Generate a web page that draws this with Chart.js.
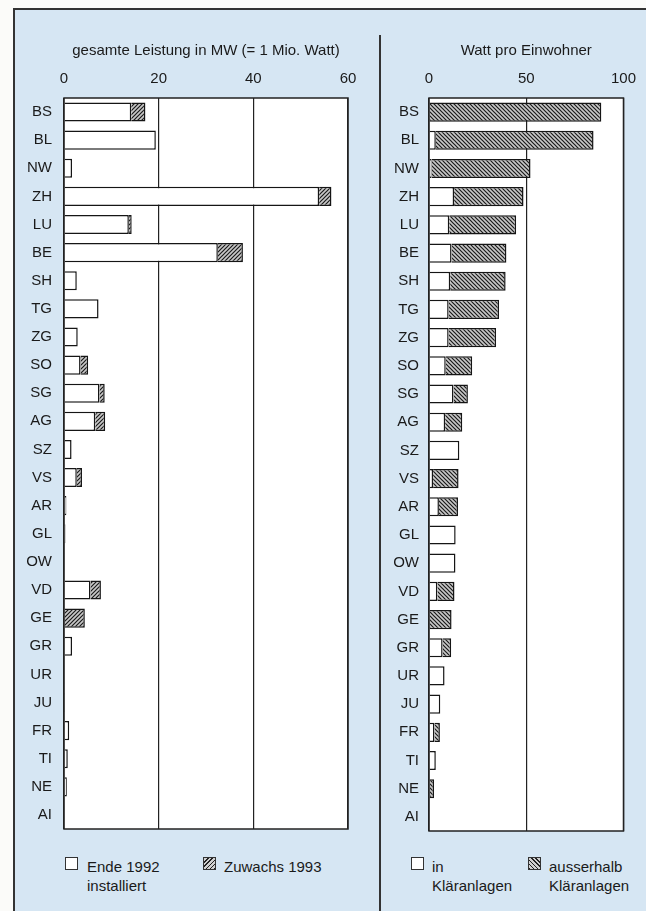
<!DOCTYPE html>
<html>
<head>
<meta charset="utf-8">
<script src="https://cdn.jsdelivr.net/npm/chart.js@4/dist/chart.umd.min.js"></script>
<style>
  html, body { margin: 0; padding: 0; }
  body { width: 646px; height: 911px; overflow: hidden; background: #fbfbf9; position: relative;
         font-family: "Liberation Sans", Arial, sans-serif; color: #1a1a1a; }
  .frame { position: absolute; left: 13px; top: 8px; width: 700px; height: 1000px;
           background: #d6e6f3; border-left: 2px solid #333; border-top: 2px solid #333; }
  .divider { position: absolute; left: 379px; top: 35px; width: 2px; height: 900px; background: #333; }
  .box { position: absolute; }
  .legend { position: absolute; font-size: 15px; line-height: 19px; }
  .sw { position: absolute; width: 13px; height: 13px; border: 1px solid #333; box-sizing: border-box; background: #fff; }
  .sw.l { background: repeating-linear-gradient(-45deg, #222 0 1px, #d0d0d0 1px 3px); }
  .sw.r { background: repeating-linear-gradient(45deg, #222 0 1px, #d0d0d0 1px 3px); }
</style>
</head>
<body>
<div class="frame"></div>
<div class="divider"></div>
<div class="box" style="left:14px;top:20px;width:364px;height:830px"><canvas id="left"></canvas></div>
<div class="box" style="left:382px;top:20px;width:264px;height:830px"><canvas id="right"></canvas></div>

<div class="sw" style="left:65px;top:857px"></div>
<div class="legend" style="left:87px;top:857px">Ende 1992<br>installiert</div>
<div class="sw l" style="left:203px;top:857px"></div>
<div class="legend" style="left:224px;top:857px">Zuwachs 1993</div>

<div class="sw" style="left:411px;top:857px"></div>
<div class="legend" style="left:432px;top:857px">in<br>Kläranlagen</div>
<div class="sw r" style="left:528px;top:857px"></div>
<div class="legend" style="left:549px;top:857px">ausserhalb<br>Kläranlagen</div>

<script>
const cantons = ['BS','BL','NW','ZH','LU','BE','SH','TG','ZG','SO','SG','AG','SZ','VS','AR','GL','OW','VD','GE','GR','UR','JU','FR','TI','NE','AI'];

// gesamte Leistung in MW
const mwEnde1992 = [14.2,19.4,1.7,53.9,13.7,32.5,2.7,7.3,2.9,3.5,7.5,6.6,1.6,2.7,0.5,0.3,0.15,5.6,0,1.7,0.1,0.2,1.1,0.8,0.6,0];
const mwZuwachs1993 = [3.0,0,0,2.6,0.6,5.3,0,0,0,1.6,1.1,2.1,0,1.1,0,0,0,2.2,4.4,0,0,0,0,0,0,0];
const mwTicks = [0, 20, 40, 60];

// Watt pro Einwohner
const wattIn = [0.3,3.5,1.3,12.9,10.4,11.6,10.9,10.1,10.1,8.6,12.6,8.3,15.6,2.1,5.1,13.7,13.6,4.3,0.3,7.0,8.0,5.8,2.8,3.5,0.5,0];
const wattAusserhalb = [88.3,81.1,50.9,35.7,34.4,28.2,28.5,25.9,24.4,13.6,7.4,8.8,0,13.1,9.8,0,0,8.8,11.3,4.4,0,0,2.8,0,2.1,0];
const wattTicks = [0, 50, 100];

function hatch(forward) {
  const c = document.createElement('canvas');
  c.width = 4; c.height = 4;
  const g = c.getContext('2d');
  g.fillStyle = '#c8c8c8';
  g.fillRect(0, 0, 4, 4);
  g.strokeStyle = '#1a1a1a';
  g.lineWidth = 1.2;
  g.beginPath();
  if (forward) {
    g.moveTo(-1, 5); g.lineTo(5, -1);
    g.moveTo(-1, 1); g.lineTo(1, -1);
    g.moveTo(3, 5); g.lineTo(5, 3);
  } else {
    g.moveTo(-1, -1); g.lineTo(5, 5);
    g.moveTo(3, -1); g.lineTo(5, 1);
    g.moveTo(-1, 3); g.lineTo(1, 5);
  }
  g.stroke();
  return g.createPattern(c, 'repeat');
}

const plotFrame = {
  id: 'plotFrame',
  beforeDraw(chart) {
    const a = chart.chartArea, ctx = chart.ctx;
    ctx.save();
    ctx.fillStyle = '#ffffff';
    ctx.fillRect(a.left, a.top, a.right - a.left, a.bottom - a.top);
    ctx.restore();
  },
  afterDraw(chart) {
    const a = chart.chartArea, ctx = chart.ctx;
    ctx.save();
    ctx.strokeStyle = '#222';
    ctx.lineWidth = 1.5;
    ctx.strokeRect(a.left, a.top, a.right - a.left, a.bottom - a.top);
    ctx.restore();
  }
};

const font = { family: '"Liberation Sans", Arial, sans-serif', size: 15 };

function makeChart(id, a, b, patternFwd, max, ticks, title, yWidth, yPad, pad) {
  return new Chart(document.getElementById(id), {
    type: 'bar',
    data: {
      labels: cantons,
      datasets: [
        { data: a, backgroundColor: '#ffffff', borderColor: '#151515', borderWidth: 1.5,
          barPercentage: 0.68, categoryPercentage: 1 },
        { data: b, backgroundColor: hatch(patternFwd), borderColor: '#151515', borderWidth: 1.5,
          barPercentage: 0.68, categoryPercentage: 1 }
      ]
    },
    options: {
      indexAxis: 'y',
      responsive: true,
      maintainAspectRatio: false,
      animation: false,
      layout: { padding: pad },
      plugins: { legend: { display: false }, tooltip: { enabled: false } },
      scales: {
        x: {
          position: 'top',
          stacked: true,
          min: 0,
          max: max,
          afterBuildTicks: s => { s.ticks = ticks.map(v => ({ value: v })); },
          afterFit: s => { s.height = 78; },
          ticks: { font: font, color: '#1a1a1a', padding: 10, maxRotation: 0 },
          grid: { color: '#222', lineWidth: 1.2, drawTicks: false },
          border: { display: false },
          title: { display: true, text: title, font: font, color: '#1a1a1a', padding: { top: 22, bottom: 0 } }
        },
        y: {
          stacked: true,
          afterFit: s => { s.width = yWidth; },
          ticks: { font: font, color: '#1a1a1a', padding: yPad },
          grid: { display: false, drawTicks: false },
          border: { display: false }
        }
      }
    },
    plugins: [plotFrame]
  });
}

makeChart('left', mwEnde1992, mwZuwachs1993, true, 60, mwTicks,
  'gesamte Leistung in MW (= 1 Mio. Watt)', 50, 12, { left: 0, right: 30, top: 0, bottom: 3 });
makeChart('right', wattIn, wattAusserhalb, false, 100, wattTicks,
  'Watt pro Einwohner', 47, 10, { left: 0, right: 16, top: 0, bottom: 2 });
</script>
</body>
</html>
